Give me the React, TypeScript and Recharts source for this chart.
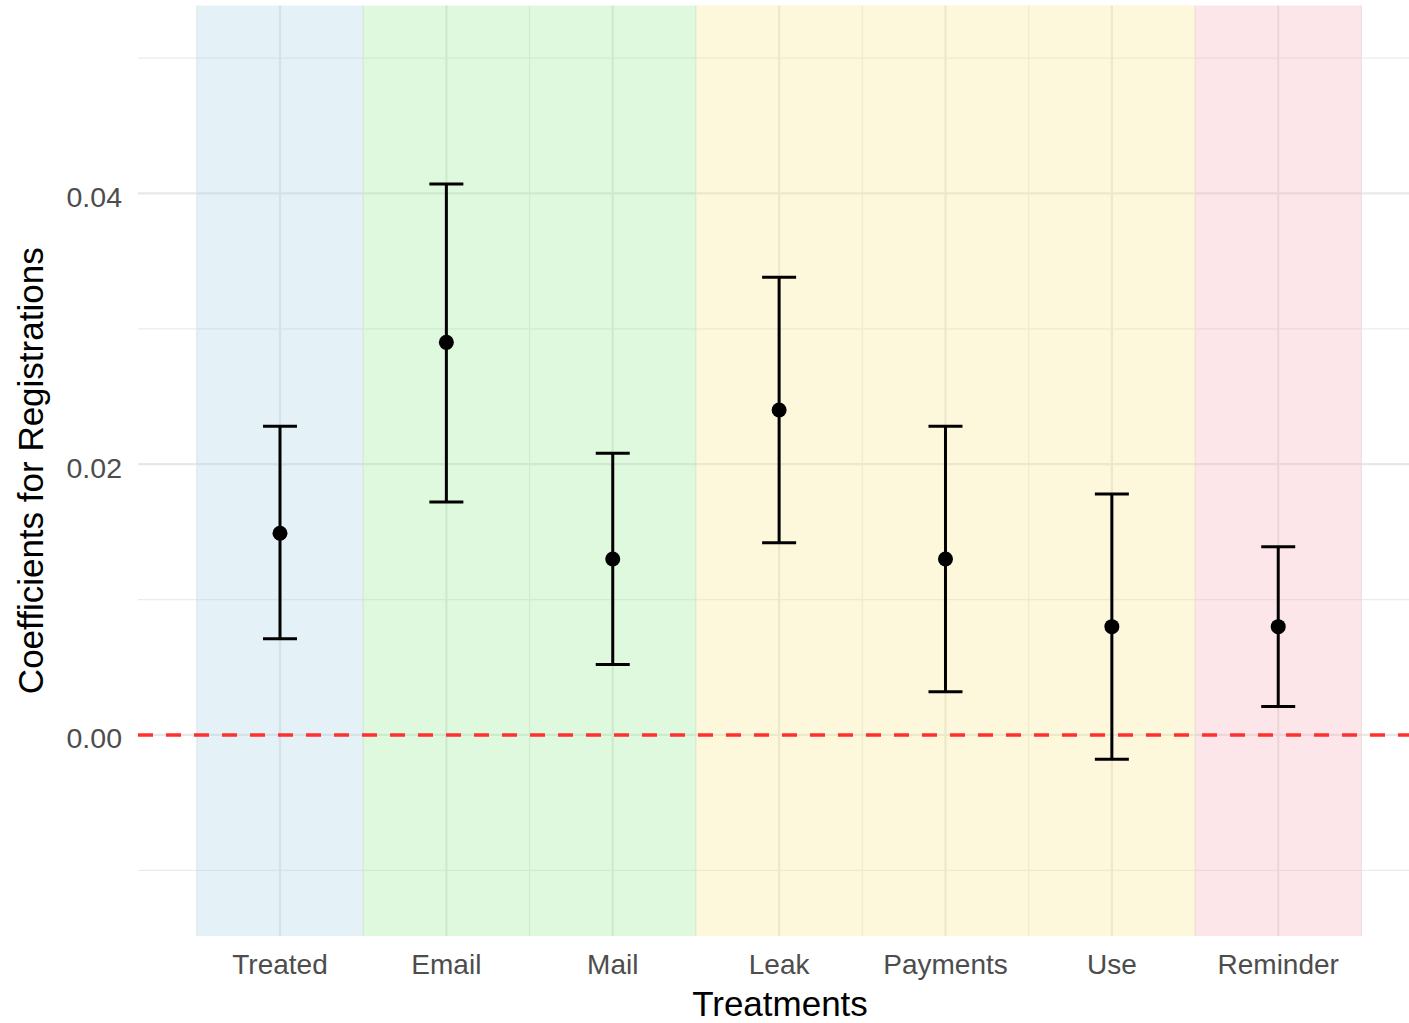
import React from 'react';
import {
  ComposedChart,
  Scatter,
  ErrorBar,
  XAxis,
  YAxis,
  CartesianGrid,
  ReferenceArea,
  ReferenceLine,
} from 'recharts';

// ---- data ----
const treatments = ['Treated', 'Email', 'Mail', 'Leak', 'Payments', 'Use', 'Reminder'];
const estimates = [0.0149, 0.029, 0.013, 0.024, 0.013, 0.008, 0.008];
const lowerCI = [0.0071, 0.0172, 0.0052, 0.0142, 0.0032, -0.0018, 0.0021];
const upperCI = [0.0228, 0.0407, 0.0208, 0.0338, 0.0228, 0.0178, 0.0139];

// shaded treatment groups (in category units)
const groupStart = [0.5, 1.5, 3.5, 6.5];
const groupEnd = [1.5, 3.5, 6.5, 7.5];
const groupFill = ['#a5d0e4', '#93ea93', '#f8e48a', '#f8acb6'];

const yTicks = [0, 0.02, 0.04];
const yMinor = [-0.01, 0.01, 0.03, 0.05];
const xMajor = [1, 2, 3, 4, 5, 6, 7];
const xMinor = [0.5, 1.5, 2.5, 3.5, 4.5, 5.5, 6.5, 7.5];

const xDomain: [number, number] = [0.1465, 7.786];
const yDomain: [number, number] = [-0.01485, 0.05388];

const rows = treatments.map((name, i) => ({
  x: i + 1,
  name,
  y: estimates[i],
  err: [estimates[i] - lowerCI[i], upperCI[i] - estimates[i]],
}));

const FONT = '"Liberation Sans", Arial, Helvetica, sans-serif';

const XTick = (props: any) => {
  const { x, y, payload } = props;
  return (
    <text x={x} y={y + 38} textAnchor="middle" fill="#4d4d4d" fontSize={28} fontFamily={FONT}>
      {treatments[Math.round(payload.value) - 1]}
    </text>
  );
};

const YTick = (props: any) => {
  const { x, y, payload } = props;
  return (
    <text x={x} y={y + 13.5} textAnchor="end" fill="#4d4d4d" fontSize={28.5} fontFamily={FONT}>
      {Number(payload.value).toFixed(2)}
    </text>
  );
};

const Dot = (props: any) => {
  const { cx, cy } = props;
  return <circle cx={cx} cy={cy} r={7.5} fill="#000" />;
};

export default function App() {
  return (
    <div style={{ width: 1409, height: 1023, background: '#fff' }}>
      <style>{'body{margin:0;background:#fff}'}</style>
      <ComposedChart
        width={1409}
        height={1023}
        data={rows}
        margin={{ top: 5.5, right: 0, bottom: 0, left: 0 }}
      >
        <CartesianGrid
          horizontalValues={yMinor}
          verticalValues={xMinor}
          stroke="#ebebeb"
          strokeWidth={1.2}
        />
        <CartesianGrid
          horizontalValues={yTicks}
          verticalValues={xMajor}
          stroke="#e8e8e8"
          strokeWidth={2.2}
        />
        {groupStart.map((s, i) => (
          <ReferenceArea
            key={i}
            x1={s}
            x2={groupEnd[i]}
            fill={groupFill[i]}
            fillOpacity={0.3}
            stroke="none"
            ifOverflow="extendDomain"
          />
        ))}
        <ReferenceLine y={0} stroke="#ff3030" strokeWidth={3.5} strokeDasharray="15 13" />
        <XAxis
          type="number"
          dataKey="x"
          domain={xDomain}
          allowDataOverflow
          ticks={xMajor}
          interval={0}
          tick={<XTick />}
          tickLine={false}
          axisLine={false}
          tickSize={0}
          tickMargin={0}
          height={87}
          label={(p: any) => {
            const vb = p.viewBox;
            return (
              <text
                x={vb.x + vb.width / 2 + 6.5}
                y={vb.y + 80}
                textAnchor="middle"
                fill="#000"
                fontSize={35}
                fontFamily={FONT}
              >
                Treatments
              </text>
            );
          }}
        />
        <YAxis
          type="number"
          dataKey="y"
          domain={yDomain}
          allowDataOverflow
          ticks={yTicks}
          interval={0}
          tick={<YTick />}
          tickLine={false}
          axisLine={false}
          tickSize={0}
          tickMargin={16}
          width={138}
          label={(p: any) => {
            const vb = p.viewBox;
            const cy = vb.y + vb.height / 2;
            return (
              <text
                x={43}
                y={cy}
                transform={`rotate(-90, 43, ${cy})`}
                textAnchor="middle"
                fill="#000"
                fontSize={35}
                fontFamily={FONT}
              >
                Coefficients for Registrations
              </text>
            );
          }}
        />
        <Scatter dataKey="y" shape={<Dot />} isAnimationActive={false}>
          <ErrorBar dataKey="err" direction="y" width={17} stroke="#000" strokeWidth={3} isAnimationActive={false} />
        </Scatter>
      </ComposedChart>
    </div>
  );
}
